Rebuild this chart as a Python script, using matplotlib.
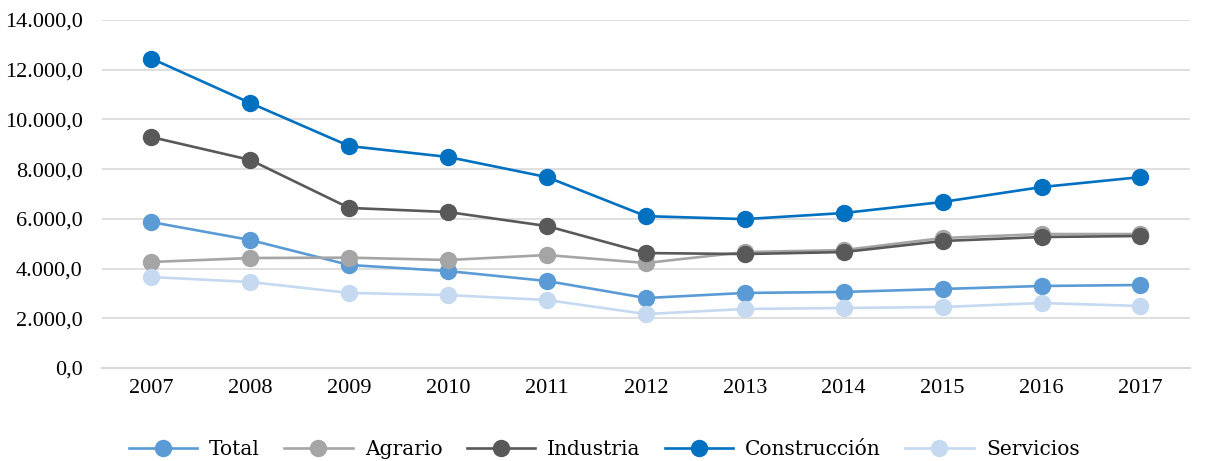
import matplotlib.pyplot as plt
from matplotlib.ticker import FuncFormatter

plt.rcParams['font.family'] = ['Liberation Serif', 'DejaVu Serif']

years = ['2007', '2008', '2009', '2010', '2011', '2012', '2013', '2014', '2015', '2016', '2017']

total = [5870, 5150, 4145, 3900, 3500, 2815, 3020, 3060, 3180, 3300, 3340]
agrario = [4265, 4425, 4440, 4345, 4545, 4225, 4665, 4745, 5230, 5390, 5390]
industria = [9290, 8370, 6440, 6275, 5710, 4625, 4585, 4665, 5110, 5270, 5310]
construccion = [12450, 10660, 8930, 8490, 7680, 6110, 5990, 6235, 6680, 7280, 7680]
servicios = [3660, 3460, 3020, 2935, 2735, 2170, 2375, 2415, 2455, 2615, 2495]

series = [
    ('Total', total, '#5B9BD5'),
    ('Agrario', agrario, '#A5A5A5'),
    ('Industria', industria, '#595959'),
    ('Construcción', construccion, '#0070C0'),
    ('Servicios', servicios, '#C5D9F1'),
]

fig = plt.figure(figsize=(12.08, 4.61), dpi=100)
ax = fig.add_axes([0.0844, 0.2017, 0.9006, 0.7549])

x = range(len(years))
for name, vals, col in series:
    ax.plot(x, vals, color=col, linewidth=1.9, marker='o', markersize=11.5,
            markeredgecolor=col, label=name)

def es_fmt(v, pos):
    s = f"{v:,.1f}"
    return s.replace(',', 'X').replace('.', ',').replace('X', '.')

ax.set_ylim(0, 14000)
ax.set_yticks(range(0, 14001, 2000))
ax.yaxis.set_major_formatter(FuncFormatter(es_fmt))
ax.set_xlim(-0.5, len(years) - 0.5)
ax.set_xticks(list(x))
ax.set_xticklabels(years)

ax.grid(axis='y', color='#D9D9D9', linewidth=1.2)
ax.set_axisbelow(True)
for s in ['top', 'right', 'left']:
    ax.spines[s].set_visible(False)
ax.spines['bottom'].set_color('#D9D9D9')
ax.spines['bottom'].set_linewidth(1.5)
ax.tick_params(axis='both', length=0, labelsize=16, colors='#000000')
ax.tick_params(axis='y', pad=14)
ax.tick_params(axis='x', pad=8)

fig.legend(loc='lower center', bbox_to_anchor=(0.5, -0.035), ncol=5, frameon=False,
           prop={'family': 'DejaVu Serif', 'size': 14.5},
           handlelength=3.4, columnspacing=1.2, handletextpad=0.6)

fig.savefig('out.png', dpi=100)
